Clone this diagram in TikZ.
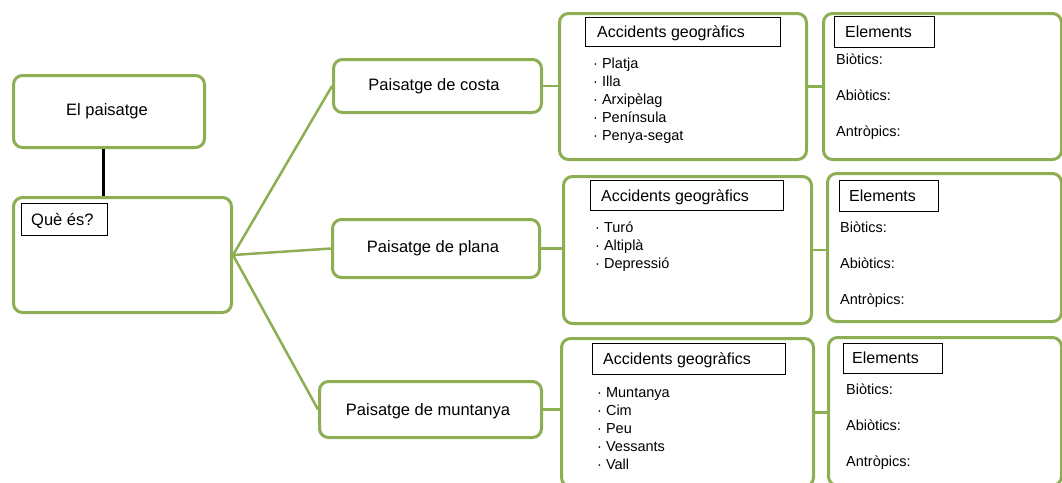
\documentclass[tikz,border=0pt]{standalone}
\usepackage{fontspec}
\setmainfont{Liberation Sans}
\definecolor{gr}{HTML}{8DAE52}
\begin{document}
\begin{tikzpicture}[x=1pt,y=-1pt,
  gbox/.style={draw=gr, line width=3pt, rounded corners=9pt, fill=white, anchor=north west, inner sep=0pt},
  tbox/.style={draw=black, line width=0.8pt, fill=white, anchor=north west, inner sep=0pt},
  lbl/.style={font=\fontsize{16.5}{18}\selectfont, inner sep=0pt, anchor=base},
  ttl/.style={font=\fontsize{16}{18}\selectfont, inner sep=0pt, anchor=base west},
  itm/.style={font=\fontsize{14.5}{16}\selectfont, anchor=base west, inner sep=0pt},
  conn/.style={draw=gr, line width=2.5pt}]
\useasboundingbox (0,0) rectangle (1062,482);
% left column
\node[gbox, minimum width=191pt, minimum height=72pt] (ep) at (12,74) {};
\node[lbl] (eplbl) at (107,115) {El paisatge};
\node[gbox, minimum width=218pt, minimum height=115pt] (qe) at (12,196) {};
\node[tbox, minimum width=86pt, minimum height=32pt] (qet) at (21,203) {};
\node[lbl, anchor=base west] (qelbl) at (31,225) {Què és?};
\draw[black, line width=2.2pt] ([xshift=-5.5pt]ep.south) -- ([xshift=-5.5pt]ep.south |- qe.north);
% paisatges
\node[gbox, minimum width=208pt, minimum height=53pt] (costa) at (332,58) {};
\node[lbl] (costalbl) at (434,90) {Paisatge de costa};
\node[gbox, minimum width=207pt, minimum height=58pt] (plana) at (331,218) {};
\node[lbl] (planalbl) at (433,252) {Paisatge de plana};
\node[gbox, minimum width=222pt, minimum height=56pt] (munt) at (318,380) {};
\node[lbl] (muntlbl) at (428,415) {Paisatge de muntanya};
\draw[conn] (qe.east) -- (costa.west);
\draw[conn] (qe.east) -- (plana.west);
\draw[conn] (qe.east) -- (munt.west);
% accidents boxes
\node[gbox, minimum width=247pt, minimum height=146pt] (acc1) at (558,12) {};
\node[gbox, minimum width=248pt, minimum height=147pt] (acc2) at (562,175) {};
\node[gbox, minimum width=252pt, minimum height=148pt] (acc3) at (560,337) {};
\draw[conn] (costa.east) -- (costa.east -| acc1.west);
\draw[conn] (plana.east) -- (plana.east -| acc2.west);
\draw[conn] (munt.east) -- (munt.east -| acc3.west);
\node[tbox, minimum width=195pt, minimum height=29pt] (acc1t) at (585,17) {};
\node[ttl] (acc1tl) at (597,37) {Accidents geogràfics};
\node[tbox, minimum width=193pt, minimum height=30pt] (acc2t) at (590,180) {};
\node[ttl] (acc2tl) at (601,201) {Accidents geogràfics};
\node[tbox, minimum width=193pt, minimum height=31pt] (acc3t) at (592,343) {};
\node[ttl] (acc3tl) at (603,364.5) {Accidents geogràfics};
\node[itm] (a1) at (593,68) {· Platja};
\node[itm] (a2) at (593,86) {· Illa};
\node[itm] (a3) at (593,104) {· Arxipèlag};
\node[itm] (a4) at (593,122) {· Península};
\node[itm] (a5) at (593,140) {· Penya-segat};
\node[itm] (b1) at (595,232) {· Turó};
\node[itm] (b2) at (595,250) {· Altiplà};
\node[itm] (b3) at (595,268) {· Depressió};
\node[itm] (c1) at (597,397) {· Muntanya};
\node[itm] (c2) at (597,415) {· Cim};
\node[itm] (c3) at (597,433) {· Peu};
\node[itm] (c4) at (597,451) {· Vessants};
\node[itm] (c5) at (597,469) {· Vall};
% elements boxes
\node[gbox, minimum width=238pt, minimum height=146pt] (el1) at (822,12) {};
\node[gbox, minimum width=234pt, minimum height=148pt] (el2) at (826,172) {};
\node[gbox, minimum width=233pt, minimum height=148pt] (el3) at (827,336) {};
\draw[conn] (acc1.east) -- (acc1.east -| el1.west);
\draw[conn] (acc2.east) -- (acc2.east -| el2.west);
\draw[conn] (acc3.east) -- (acc3.east -| el3.west);
\node[tbox, minimum width=100pt, minimum height=31pt] (el1t) at (834,16) {};
\node[ttl] (el1tl) at (845,37) {Elements};
\node[tbox, minimum width=99pt, minimum height=31pt] (el2t) at (839,180) {};
\node[ttl] (el2tl) at (849,201) {Elements};
\node[tbox, minimum width=99pt, minimum height=30pt] (el3t) at (843,343) {};
\node[ttl] (el3tl) at (852,363.5) {Elements};
\node[itm] (e11) at (836,64) {Biòtics:};
\node[itm] (e12) at (836,100) {Abiòtics:};
\node[itm] (e13) at (836,136) {Antròpics:};
\node[itm] (e21) at (840,232) {Biòtics:};
\node[itm] (e22) at (840,268) {Abiòtics:};
\node[itm] (e23) at (840,304) {Antròpics:};
\node[itm] (e31) at (846,394) {Biòtics:};
\node[itm] (e32) at (846,430) {Abiòtics:};
\node[itm] (e33) at (846,466) {Antròpics:};
\end{tikzpicture}
\end{document}
